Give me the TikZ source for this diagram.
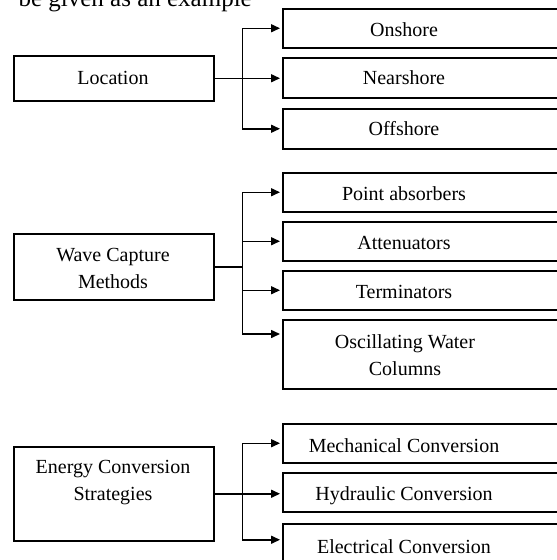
\documentclass[tikz,border=0pt]{standalone}
\usepackage{fontspec}
\setmainfont{Liberation Serif}
\usetikzlibrary{arrows.meta,calc}
\begin{document}
\begin{tikzpicture}[x=1pt,y=-1pt,
  box/.style={draw=black,line width=1.5pt,rectangle,anchor=north west,inner sep=0pt},
  lbl/.style={font=\fontsize{20}{27}\selectfont,align=center,inner sep=0pt},
  conn/.style={line width=1.5pt,-{Triangle[length=9pt,width=8pt]},shorten >=2pt},
  line/.style={line width=1.5pt}]
\useasboundingbox (0,0) rectangle (557,560);
\clip (0,0) rectangle (557,560);
\fill[white] (0,0) rectangle (557,560);
% cut-off caption line at the top
\node[font=\fontsize{25}{30}\selectfont,anchor=base east,inner sep=0pt] (cap) at (252,6) {be given as an example};
% left boxes
\node[box,minimum width=200pt,minimum height=45pt] (loc) at (13,55) {};
\node[box,minimum width=200pt,minimum height=66pt] (wave) at (13,233) {};
\node[box,minimum width=200pt,minimum height=94pt] (en) at (13,446) {};
\node[lbl] (lloc) at (113,77.5) {Location};
\node[lbl] (lwave) at (113,268.5) {Wave Capture\\Methods};
\node[lbl] (len) at (113,483) {Energy Conversion\\Strategies};
% right boxes
\node[box,minimum width=308pt,minimum height=39pt] (on) at (282,8) {};
\node[box,minimum width=308pt,minimum height=40pt] (near) at (282,57) {};
\node[box,minimum width=308pt,minimum height=40pt] (off) at (282,108) {};
\node[box,minimum width=308pt,minimum height=39pt] (pa) at (282,172) {};
\node[box,minimum width=308pt,minimum height=39pt] (att) at (282,221) {};
\node[box,minimum width=308pt,minimum height=39pt] (term) at (282,270) {};
\node[box,minimum width=308pt,minimum height=69pt] (owc) at (282,319) {};
\node[box,minimum width=308pt,minimum height=39pt] (mech) at (282,423) {};
\node[box,minimum width=308pt,minimum height=39pt] (hyd) at (282,472) {};
\node[box,minimum width=308pt,minimum height=41pt] (elec) at (282,523) {};
% right labels
\node[lbl,anchor=base] (lon) at ($(on.west)+(122,8)$) {Onshore};
\node[lbl,anchor=base] (lnear) at ($(near.west)+(122,7)$) {Nearshore};
\node[lbl,anchor=base] (loff) at ($(off.west)+(122,7)$) {Offshore};
\node[lbl,anchor=base] (lpa) at ($(pa.west)+(122,8)$) {Point absorbers};
\node[lbl,anchor=base] (latt) at ($(att.west)+(122,8)$) {Attenuators};
\node[lbl,anchor=base] (lterm) at ($(term.west)+(122,8)$) {Terminators};
\node[lbl] (lowc) at ($(owc.west)+(123,1)$) {Oscillating Water\\Columns};
\node[lbl,anchor=base] (lmech) at ($(mech.west)+(122,9)$) {Mechanical Conversion};
\node[lbl,anchor=base] (lhyd) at ($(hyd.west)+(122,8.5)$) {Hydraulic Conversion};
\node[lbl,anchor=base] (lelec) at ($(elec.west)+(122,9.5)$) {Electrical Conversion};
% connectors: location
\draw[conn] (loc.east) -- (loc.east -| near.west);
\path (loc.east) -- ++(28,0) coordinate (lt);
\draw[conn] (lt) |- (on.west);
\draw[conn] (lt) |- (off.west);
% connectors: wave capture
\draw[line] (wave.east) -- ++(28,0) coordinate (wt);
\draw[conn] (wt) |- (pa.west);
\draw[conn] (wt) |- (att.west);
\draw[conn] (wt) |- (term.west);
\draw[conn] (wt) |- ($(owc.north west)+(0,15)$);
% connectors: energy conversion
\draw[conn] (en.east) -- (en.east -| hyd.west);
\path (en.east) -- ++(28,0) coordinate (et);
\draw[conn] (et) |- (mech.west);
\draw[conn] (et) |- ($(elec.west)+(0,-4.5)$);
\end{tikzpicture}
\end{document}
